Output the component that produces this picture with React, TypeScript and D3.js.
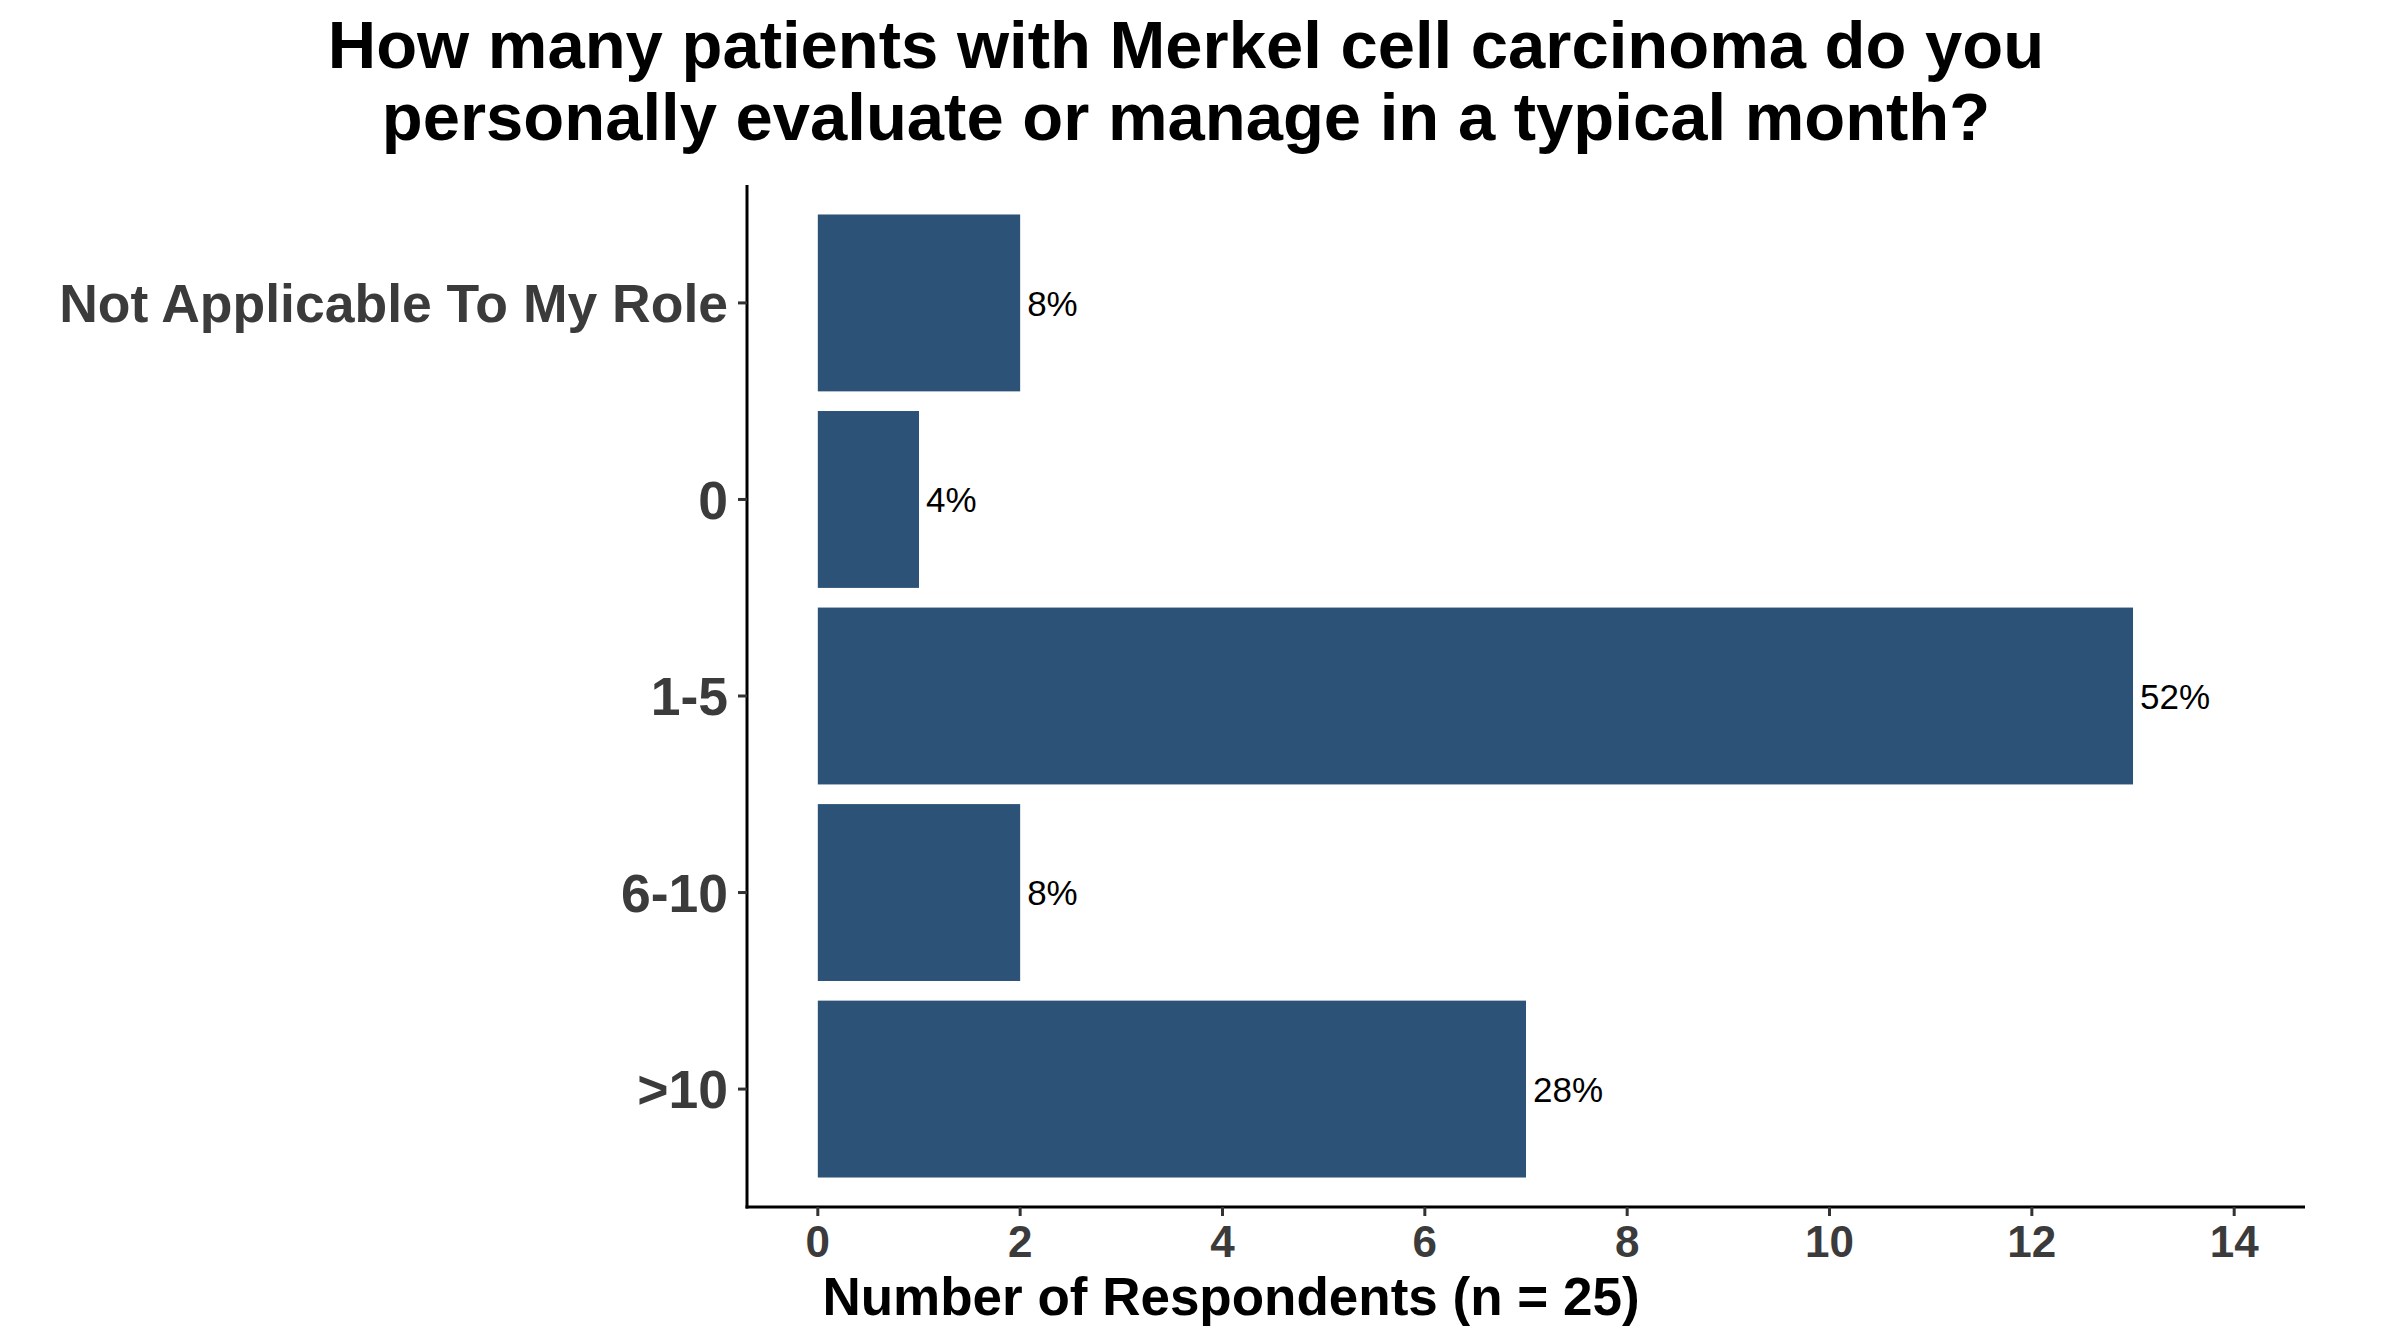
import { useEffect, useRef } from "react";
import * as d3 from "d3";

const categories = ["Not Applicable To My Role", "0", "1-5", "6-10", ">10"];
const counts = [2, 1, 13, 2, 7];
const percentLabels = ["8%", "4%", "52%", "8%", "28%"];
const xTicks = [0, 2, 4, 6, 8, 10, 12, 14];
const titleLines = [
  "How many patients with Merkel cell carcinoma do you",
  "personally evaluate or manage in a typical month?",
];
const xAxisTitle = "Number of Respondents (n = 25)";

export default function App() {
  const ref = useRef<SVGSVGElement | null>(null);

  useEffect(() => {
    if (!ref.current) return;
    const svg = d3.select(ref.current);
    svg.selectAll("*").remove();

    const font = "'Liberation Sans', Arial, Helvetica, sans-serif";
    const barColor = "#2C5278";
    const panel = { left: 747, right: 2305, top: 185, bottom: 1207 };

    const x = d3
      .scaleLinear()
      .domain([-0.7, 14.7])
      .range([panel.left, panel.right]);

    const y = d3
      .scaleBand<string>()
      .domain(categories)
      .range([panel.top, panel.bottom])
      .paddingInner(0.1)
      .paddingOuter(0.15);

    // MARK: title
    svg
      .append("g")
      .selectAll("text")
      .data(titleLines)
      .join("text")
      .attr("x", 1186)
      .attr("y", (_, i) => 68 + i * 72)
      .attr("text-anchor", "middle")
      .attr("font-family", font)
      .attr("font-weight", "bold")
      .attr("font-size", 67)
      .attr("fill", "#000")
      .text((d) => d);

    // MARK: bars
    const bars = svg.append("g");
    categories.forEach((cat, i) => {
      bars
        .append("rect")
        .attr("x", x(0))
        .attr("y", y(cat) ?? 0)
        .attr("width", x(counts[i]) - x(0))
        .attr("height", y.bandwidth())
        .attr("fill", barColor);

      bars
        .append("text")
        .attr("x", x(counts[i]) + 7)
        .attr("y", (y(cat) ?? 0) + y.bandwidth() / 2)
        .attr("dy", "0.36em")
        .attr("font-family", font)
        .attr("font-size", 35)
        .attr("fill", "#000")
        .text(percentLabels[i]);
    });

    // MARK: y axis
    const yAxis = svg.append("g");
    yAxis
      .append("line")
      .attr("x1", panel.left)
      .attr("x2", panel.left)
      .attr("y1", panel.top)
      .attr("y2", panel.bottom + 1.5)
      .attr("stroke", "#000")
      .attr("stroke-width", 3);
    categories.forEach((cat) => {
      const cy = (y(cat) ?? 0) + y.bandwidth() / 2;
      yAxis
        .append("line")
        .attr("x1", panel.left - 9)
        .attr("x2", panel.left)
        .attr("y1", cy)
        .attr("y2", cy)
        .attr("stroke", "#333")
        .attr("stroke-width", 3);
      yAxis
        .append("text")
        .attr("x", 728)
        .attr("y", cy)
        .attr("dy", "0.36em")
        .attr("text-anchor", "end")
        .attr("font-family", font)
        .attr("font-weight", "bold")
        .attr("font-size", 53.5)
        .attr("fill", "#3B3B3B")
        .text(cat);
    });

    // MARK: x axis
    const xAxis = svg.append("g");
    xAxis
      .append("line")
      .attr("x1", panel.left - 1.5)
      .attr("x2", panel.right)
      .attr("y1", panel.bottom)
      .attr("y2", panel.bottom)
      .attr("stroke", "#000")
      .attr("stroke-width", 3);
    xTicks.forEach((t) => {
      xAxis
        .append("line")
        .attr("x1", x(t))
        .attr("x2", x(t))
        .attr("y1", panel.bottom)
        .attr("y2", panel.bottom + 9)
        .attr("stroke", "#333")
        .attr("stroke-width", 3);
      xAxis
        .append("text")
        .attr("x", x(t))
        .attr("y", 1257)
        .attr("text-anchor", "middle")
        .attr("font-family", font)
        .attr("font-weight", "bold")
        .attr("font-size", 44)
        .attr("fill", "#3B3B3B")
        .text(String(t));
    });

    svg
      .append("text")
      .attr("x", 1231)
      .attr("y", 1315)
      .attr("text-anchor", "middle")
      .attr("font-family", font)
      .attr("font-weight", "bold")
      .attr("font-size", 53)
      .attr("fill", "#000")
      .text(xAxisTitle);
  }, []);

  return (
    <svg
      ref={ref}
      width={2400}
      height={1344}
      style={{ position: "absolute", left: 0, top: 0, background: "#fff" }}
    />
  );
}
